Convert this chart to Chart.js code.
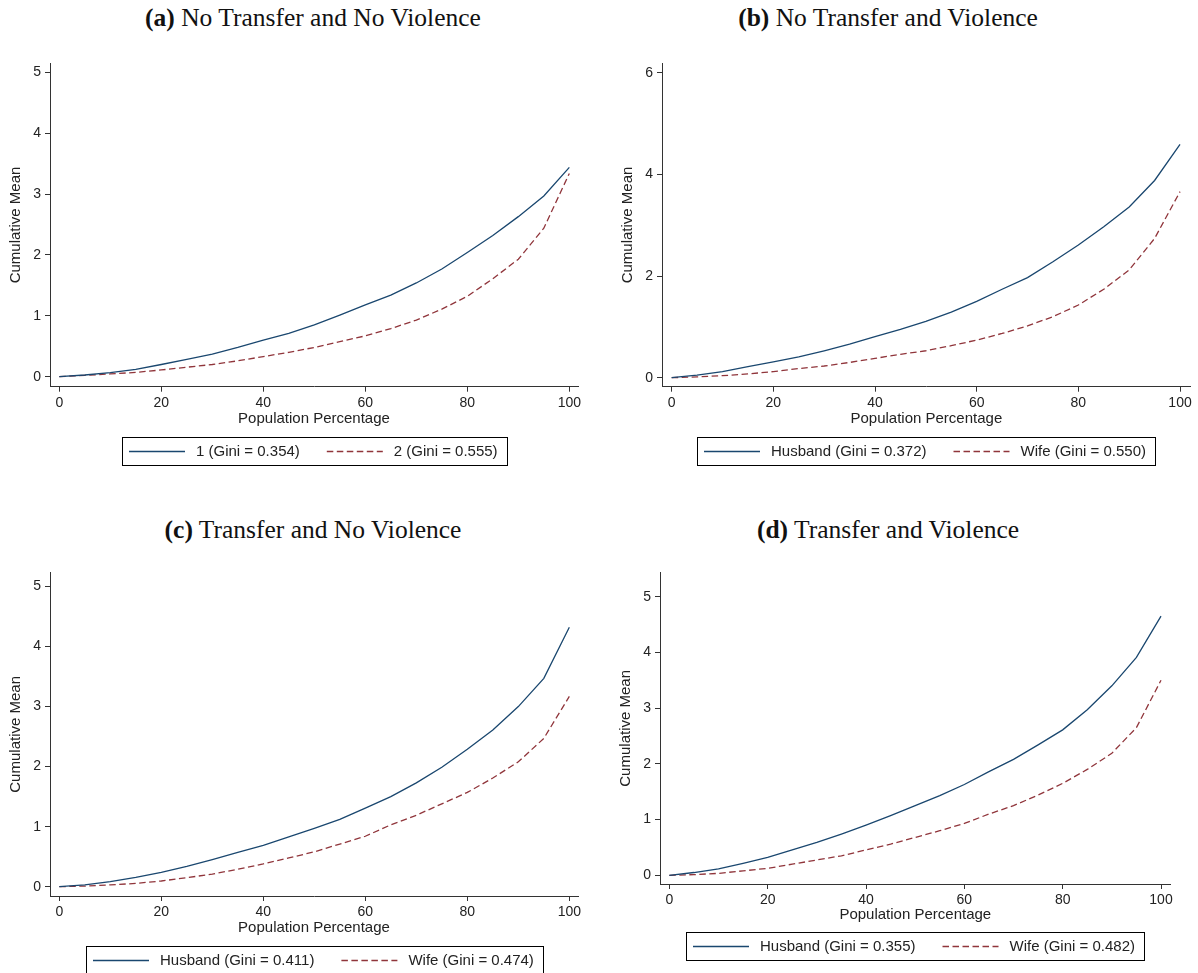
<!DOCTYPE html>
<html>
<head>
<meta charset="utf-8">
<script src="https://cdn.jsdelivr.net/npm/chart.js@4.4.0/dist/chart.umd.min.js"></script>
<style>
  body { margin: 0; background: #fff; width: 1198px; height: 973px; overflow: hidden; position: relative; }
  canvas { position: absolute; }
  .ttl { position: absolute; font-family: "Liberation Serif", "DejaVu Serif", serif; font-size: 25.5px; color: #111;
         transform: translateX(-50%); white-space: nowrap; line-height: 1; }
</style>
</head>
<body>
<div class="ttl" id="ta" style="left:313px;top:5px"></div>
<div class="ttl" id="tb" style="left:888px;top:5px"></div>
<div class="ttl" id="tc" style="left:313px;top:517px"></div>
<div class="ttl" id="td" style="left:888px;top:517px"></div>

<canvas id="ca" width="600" height="420" style="left:0;top:50px"></canvas>
<canvas id="cb" width="586" height="420" style="left:612px;top:50px"></canvas>
<canvas id="cc" width="600" height="413" style="left:0;top:560px"></canvas>
<canvas id="cd" width="588" height="413" style="left:610px;top:560px"></canvas>

<script>
// population percentage (x)
const pct = [0, 5, 10, 15, 20, 25, 30, 35, 40, 45, 50, 55, 60, 65, 70, 75, 80, 85, 90, 95, 100];

// panel titles
const panelTags = ["(a)", "(b)", "(c)", "(d)"];
const panelTitles = ["No Transfer and No Violence", "No Transfer and Violence",
                     "Transfer and No Violence", "Transfer and Violence"];

// legend labels
const labelsA = ["1 (Gini = 0.354)", "2 (Gini = 0.555)"];
const labelsB = ["Husband (Gini = 0.372)", "Wife (Gini = 0.550)"];
const labelsC = ["Husband (Gini = 0.411)", "Wife (Gini = 0.474)"];
const labelsD = ["Husband (Gini = 0.355)", "Wife (Gini = 0.482)"];

// cumulative means
const husbandA = [0, 0.027, 0.066, 0.12, 0.20, 0.285, 0.37, 0.48, 0.60, 0.71, 0.85, 1.01, 1.18, 1.34, 1.54, 1.77, 2.04, 2.32, 2.63, 2.97, 3.44];
const wifeA    = [0, 0.02, 0.045, 0.07, 0.11, 0.155, 0.20, 0.26, 0.33, 0.40, 0.48, 0.575, 0.67, 0.79, 0.93, 1.11, 1.32, 1.61, 1.93, 2.44, 3.34];
const husbandB = [0, 0.05, 0.12, 0.22, 0.31, 0.41, 0.53, 0.66, 0.81, 0.95, 1.11, 1.29, 1.50, 1.74, 1.97, 2.28, 2.61, 2.97, 3.36, 3.88, 4.59];
const wifeB    = [0, 0.015, 0.04, 0.075, 0.12, 0.18, 0.23, 0.30, 0.38, 0.46, 0.53, 0.63, 0.74, 0.87, 1.02, 1.20, 1.43, 1.74, 2.12, 2.74, 3.66];
const husbandC = [0, 0.03, 0.085, 0.155, 0.24, 0.34, 0.45, 0.57, 0.69, 0.83, 0.97, 1.12, 1.31, 1.50, 1.73, 1.99, 2.29, 2.61, 3.00, 3.47, 4.32];
const wifeC    = [0, 0.01, 0.03, 0.055, 0.095, 0.15, 0.21, 0.29, 0.38, 0.48, 0.58, 0.71, 0.84, 1.03, 1.19, 1.38, 1.57, 1.81, 2.08, 2.47, 3.17];
const husbandD = [0, 0.05, 0.115, 0.215, 0.32, 0.455, 0.59, 0.74, 0.90, 1.07, 1.25, 1.43, 1.63, 1.86, 2.08, 2.34, 2.61, 2.97, 3.40, 3.91, 4.65];
const wifeD    = [0, 0.012, 0.035, 0.08, 0.125, 0.20, 0.275, 0.35, 0.455, 0.56, 0.68, 0.80, 0.93, 1.10, 1.25, 1.44, 1.65, 1.90, 2.19, 2.65, 3.50];

const SANS = '"Liberation Sans", Arial, sans-serif';
const INK = "#222";
const AXIS = "#333";

["ta", "tb", "tc", "td"].forEach((id, i) => {
  document.getElementById(id).innerHTML = "<b>" + panelTags[i] + "</b> " + panelTitles[i];
});

// Stata-style boxed legend under the x axis
const boxLegend = {
  id: "boxLegend",
  afterDraw(chart, args, opts) {
    const ctx = chart.ctx, area = chart.chartArea;
    ctx.save();
    ctx.font = "15px " + SANS;
    const items = chart.data.datasets.map(ds => ({ ds, w: ctx.measureText(ds.label).width }));
    const sample = 56, gap = 11, itemGap = 27, padL = 7, padR = 9, h = 28;
    let total = padL + padR + itemGap * (items.length - 1);
    items.forEach(it => total += sample + gap + it.w);
    const x0 = Math.round((area.left + area.right) / 2 - total / 2);
    const y0 = Math.round(area.bottom + opts.top);
    ctx.strokeStyle = "#000";
    ctx.lineWidth = 1;
    ctx.strokeRect(x0 + 0.5, y0 + 0.5, Math.round(total), h);
    let x = x0 + padL;
    const ym = y0 + h / 2 + 0.5;
    items.forEach(it => {
      ctx.beginPath();
      ctx.setLineDash(it.ds.borderDash || []);
      ctx.strokeStyle = it.ds.borderColor;
      ctx.lineWidth = it.ds.borderWidth;
      ctx.moveTo(x, ym);
      ctx.lineTo(x + sample, ym);
      ctx.stroke();
      ctx.setLineDash([]);
      x += sample + gap;
      ctx.fillStyle = INK;
      ctx.textBaseline = "middle";
      ctx.textAlign = "left";
      ctx.fillText(it.ds.label, x, ym);
      x += it.w + itemGap;
    });
    ctx.restore();
  }
};

function makePanel(id, labels, husband, wife, p) {
  new Chart(document.getElementById(id), {
    type: "line",
    data: {
      datasets: [
        { label: labels[0], data: pct.map((v, i) => ({ x: v, y: husband[i] })),
          borderColor: "#1a476f", borderWidth: 1.3, pointRadius: 0, tension: 0, fill: false },
        { label: labels[1], data: pct.map((v, i) => ({ x: v, y: wife[i] })),
          borderColor: "#90353b", borderWidth: 1.3, borderDash: [6.5, 3.5], pointRadius: 0, tension: 0, fill: false }
      ]
    },
    options: {
      responsive: false,
      animation: false,
      layout: { padding: { left: 0, top: p.top, right: p.right, bottom: p.bottom } },
      plugins: {
        legend: { display: false },
        tooltip: { enabled: false },
        boxLegend: { top: p.legendTop }
      },
      scales: {
        x: {
          type: "linear", min: p.xMin, max: p.xMax,
          ticks: { stepSize: 20, includeBounds: false, maxRotation: 0, padding: 3,
                   color: INK, font: { family: SANS, size: 14 } },
          grid: { drawOnChartArea: false, tickLength: 5, color: AXIS },
          border: { color: AXIS, width: 1 },
          title: { display: true, text: "Population Percentage", color: INK,
                   font: { family: SANS, size: 15 }, padding: { top: 4, bottom: 4 } },
          afterFit(s) { s.height = p.xh; }
        },
        y: {
          min: p.yMin, max: p.yMax,
          ticks: { stepSize: p.yStep, includeBounds: false, padding: 4,
                   color: INK, font: { family: SANS, size: 14 } },
          grid: { drawOnChartArea: false, tickLength: 5, color: AXIS },
          border: { color: AXIS, width: 1 },
          title: { display: true, text: "Cumulative Mean", color: INK,
                   font: { family: SANS, size: 15 }, padding: { top: 7, bottom: 4 } },
          afterFit(s) { s.width = 50; }
        }
      }
    },
    plugins: [boxLegend]
  });
}

makePanel("ca", labelsA, husbandA, wifeA,
  { top: 13.3, right: 22, bottom: 38.3, xh: 45, legendTop: 50, xMin: -1.82, xMax: 101.7, yMin: -0.165, yMax: 5.15, yStep: 1 });
makePanel("cb", labelsB, husbandB, wifeB,
  { top: 13.3, right: 7.3, bottom: 38.3, xh: 45, legendTop: 50, xMin: -1.9, xMax: 102.1, yMin: -0.177, yMax: 6.185, yStep: 2 });
makePanel("cc", labelsC, husbandC, wifeC,
  { top: 12.7, right: 22, bottom: 32, xh: 45, legendTop: 50, xMin: -1.82, xMax: 101.7, yMin: -0.155, yMax: 5.23, yStep: 1 });
makePanel("cd", labelsD, husbandD, wifeD,
  { top: 12.7, right: 27.4, bottom: 45, xh: 44, legendTop: 48.3, xMin: -1.9, xMax: 101.95, yMin: -0.156, yMax: 5.43, yStep: 1 });
</script>
</body>
</html>
